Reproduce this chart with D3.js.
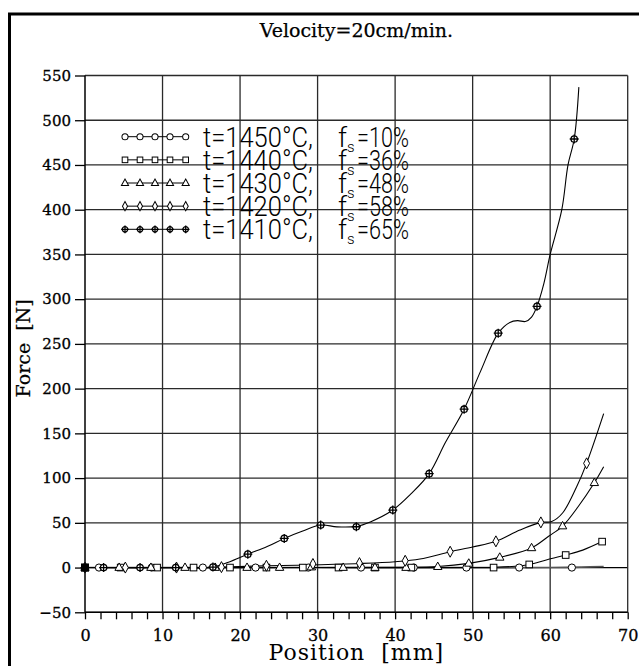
<!DOCTYPE html>
<html><head><meta charset="utf-8">
<script src="https://cdn.jsdelivr.net/npm/d3@7"></script>
<style>body{margin:0;background:#fff}</style>
</head><body>
<svg id="chart" width="639" height="666"></svg>
<script>
// ---- data ----
const xTickValues = d3.range(0, 71, 2);
const xLabelTicks = [0, 10, 20, 30, 40, 50, 60, 70];
const yTickValues = [-50, 0, 50, 100, 150, 200, 250, 300, 350, 400, 450, 500, 550];
const xGrid = [10, 20, 30, 40, 50, 60, 70];

const legendTemps = ["t=1450°C,", "t=1440°C,", "t=1430°C,", "t=1420°C,", "t=1410°C,"];
const legendFs = ["=10%", "=36%", "=48%", "=58%", "=65%"];
const shapes = ["circle", "square", "triangle", "diamond", "plus"];

const markers1450 = [[0,0],[1.8,0],[8.6,0],[15.2,0],[22.0,0],[28.8,0],[35.6,0],[42.4,0],[49.2,0],[56.0,0],[62.8,0]];
const line1450 = [[0,0],[30,0],[60,0],[64,0.5],[66.9,1.2]];

const markers1440 = [[0,0],[4.6,0],[9.3,0],[14.0,0],[18.7,0],[23.4,0],[28.1,0],[32.7,0],[37.4,0],[42.1,0],[52.7,0],[57.3,3.5],[62.0,14],[66.7,29]];
const line1440 = [[0,0],[30,0],[50,0],[53,0.3],[55.5,1.5],[57.3,3.5],[59.5,8.5],[62.0,14],[64.2,19.5],[66.7,29]];

const markers1430 = [[0,0],[4.4,0],[8.5,0],[12.9,0],[16.8,0],[20.9,0],[25.1,0],[29.2,0.5],[33.3,0],[37.4,0],[41.4,0],[45.5,1],[49.5,4.7],[53.5,11.4],[57.6,22],[61.6,46.4],[65.7,94.8]];
const line1430 = [[0,0],[30,0],[41,0.3],[45.5,1.2],[49.5,4.7],[53.5,11.4],[57.6,22],[59.8,35],[61.6,46.4],[63.6,68],[65.7,94.8],[66.9,112.7]];

const markers1420 = [[0,0],[5.2,0],[11.8,0],[17.6,0.5],[23.4,2],[29.4,4],[35.4,5],[41.3,7.6],[47.1,17.7],[53.0,29.3],[58.8,50.5],[64.7,116.5]];
const line1420 = [[0,0],[16,0],[18,0.7],[23.4,2],[29.4,3],[35.4,4.5],[40,6.5],[43.2,9.5],[47.1,17.7],[50,23],[53.0,29.3],[56.1,42],[58.8,50.5],[60.2,51.5],[61.6,61],[63.4,90],[64.7,116.5],[66.9,172]];

const markers1410 = [[0,0],[2.4,0],[7.1,0],[11.7,0],[16.5,0.5],[21.0,15],[25.7,32.6],[30.4,47.5],[35.0,45.6],[39.7,64.3],[44.4,105],[48.9,177],[53.3,262],[58.3,292],[63.1,479]];
const line1410 = [[0,0],[12,0],[16.5,0.5],[18.5,6],[21.0,15],[23.5,23.5],[25.7,32.6],[28,40.5],[30.4,47.5],[32.5,45.5],[35.0,46],[36.8,51],[39.7,64.3],[42,82],[44.4,105],[46.5,140],[48.9,177],[51,219],[53.3,262],[54.8,274],[55.8,276],[56.8,275],[57.6,280],[58.3,292],[59.2,318],[60,350],[61.5,400],[62.3,450],[63.1,479],[63.7,537]];

const seriesMarkers = [markers1450, markers1440, markers1430, markers1420, markers1410];
const seriesLines = [line1450, line1440, line1430, line1420, line1410];

// ---- drawing ----
const svg = d3.select("#chart");
const x = d3.scaleLinear().domain([0, 70]).range([85, 627.7]);
const y = d3.scaleLinear().domain([-50, 550]).range([612.3, 75.5]);
const serif = "'DejaVu Serif', serif";
const sans = "Roboto, 'Liberation Sans', sans-serif";

// outer frame
svg.append("path").attr("d", "M9.5,680 L9.5,14 L650,14")
  .attr("fill", "none").attr("stroke", "#000").attr("stroke-width", 3);

// grid
const grid = svg.append("g").attr("stroke", "#2a2a2a").attr("stroke-width", 1.3);
grid.selectAll("line.h").data(yTickValues).join("line")
  .attr("x1", x(0)).attr("x2", x(70)).attr("y1", d => y(d)).attr("y2", d => y(d))
  .attr("stroke", d => d === 0 ? "#000" : "#2a2a2a");
grid.selectAll("line.v").data(xGrid).join("line")
  .attr("x1", d => x(d)).attr("x2", d => x(d)).attr("y1", y(-50)).attr("y2", y(550));

// axes
const yAxis = svg.append("g").attr("transform", `translate(${x(0)},0)`)
  .call(d3.axisLeft(y).tickValues(yTickValues).tickSize(10).tickPadding(4)
    .tickFormat(d => d < 0 ? "\u2212" + Math.abs(d) : d));
yAxis.select(".domain").attr("stroke-width", 1.5).attr("d", `M0,${y(-50)}V${y(550)}`);
yAxis.selectAll(".tick line").attr("stroke-width", 1.3);
yAxis.selectAll("text").attr("font-family", serif).attr("font-size", 15).attr("fill", "#000")
  .attr("stroke", "#000").attr("stroke-width", 0.3);

const xAxis = svg.append("g").attr("transform", `translate(0,${y(-50)})`)
  .call(d3.axisBottom(x).tickValues(xTickValues).tickSize(7).tickPadding(10)
    .tickFormat(d => xLabelTicks.includes(d) ? d : ""));
xAxis.select(".domain").attr("stroke-width", 1.5).attr("d", `M${x(0)},0H${x(70)}`);
xAxis.selectAll(".tick line").attr("stroke-width", 1.3);
xAxis.selectAll("text").attr("font-family", serif).attr("font-size", 16).attr("fill", "#000")
  .attr("stroke", "#000").attr("stroke-width", 0.3);

// titles
svg.append("text").attr("x", x(35)).attr("y", 37).attr("text-anchor", "middle")
  .attr("font-family", serif).attr("font-size", 19).attr("stroke", "#000").attr("stroke-width", 0.25)
  .text("Velocity=20cm/min.");
svg.append("text").attr("x", x(35)).attr("y", 660).attr("text-anchor", "middle")
  .attr("font-family", serif).attr("font-size", 22).attr("letter-spacing", 1)
  .attr("xml:space", "preserve").text("Position  [mm]");
svg.append("text").attr("transform", `translate(30,${y(245)}) rotate(-90)`).attr("text-anchor", "middle")
  .attr("font-family", serif).attr("font-size", 19).attr("stroke", "#000").attr("stroke-width", 0.25)
  .attr("xml:space", "preserve").text("Force  [N]");

// marker drawing
function drawMarker(g, shape, cx, cy, k) {
  k = k || 1;
  const s = g.append("g").attr("transform", `translate(${cx},${cy}) scale(${k})`)
    .attr("fill", "#fff").attr("stroke", "#000").attr("stroke-width", 1 / k);
  if (shape === "circle") s.append("circle").attr("r", 3.6);
  else if (shape === "square") s.append("rect").attr("x", -3.3).attr("y", -3.3).attr("width", 6.6).attr("height", 6.6);
  else if (shape === "triangle") s.append("path").attr("d", "M0,-4.6L4.2,2.8L-4.2,2.8Z");
  else if (shape === "diamond") s.append("path").attr("d", "M0,-5.5L3,0L0,5.5L-3,0Z");
  else {
    s.append("circle").attr("r", 3.2).attr("stroke-width", 1.3 / k);
    s.append("path").attr("d", "M-4.5,0H4.5M0,-4.5V4.5").attr("stroke-width", 1.3 / k);
  }
}

const line = d3.line().x(d => x(d[0])).y(d => y(d[1])).curve(d3.curveCatmullRom.alpha(0.5));
const plot = svg.append("g");
seriesLines.forEach((pts, i) => {
  plot.append("path").attr("d", line(pts)).attr("fill", "none")
    .attr("stroke", i === 0 ? "#555" : "#000").attr("stroke-width", i === 0 ? 1.6 : 1.1);
});
seriesMarkers.forEach((pts, i) => {
  pts.forEach(p => drawMarker(plot, shapes[i], x(p[0]), y(p[1])));
});
// overlapping markers at the origin render as a solid block
plot.append("rect").attr("x", x(0) - 4).attr("y", y(0) - 4).attr("width", 8).attr("height", 8).attr("fill", "#000");

// legend
const legend = svg.append("g");
const legX = [125, 140, 155, 170, 185.7];
legendTemps.forEach((t, i) => {
  const ly = 136.7 + 23.15 * i;
  legend.append("line").attr("x1", legX[0]).attr("x2", legX[4]).attr("y1", ly).attr("y2", ly)
    .attr("stroke", "#000").attr("stroke-width", 1);
  legX.forEach(lx => drawMarker(legend, shapes[i], lx, ly, 0.85));
  const ty = ly + 10;
  legend.append("text").attr("x", 203).attr("y", ty).attr("font-family", sans).attr("font-weight", 300)
    .attr("font-size", 27).attr("textLength", 110).attr("lengthAdjust", "spacingAndGlyphs").text(t);
  legend.append("text").attr("x", 338).attr("y", ty).attr("font-family", sans).attr("font-weight", 300)
    .attr("font-size", 27).attr("textLength", 9).attr("lengthAdjust", "spacingAndGlyphs").text("f");
  legend.append("text").attr("x", 347).attr("y", ty + 5).attr("font-family", sans).attr("font-weight", 300)
    .attr("font-size", 15).text("s");
  legend.append("text").attr("x", 357).attr("y", ty).attr("font-family", sans).attr("font-weight", 300)
    .attr("font-size", 27).attr("textLength", 52).attr("lengthAdjust", "spacingAndGlyphs").text(legendFs[i]);
});
</script>
</body></html>
